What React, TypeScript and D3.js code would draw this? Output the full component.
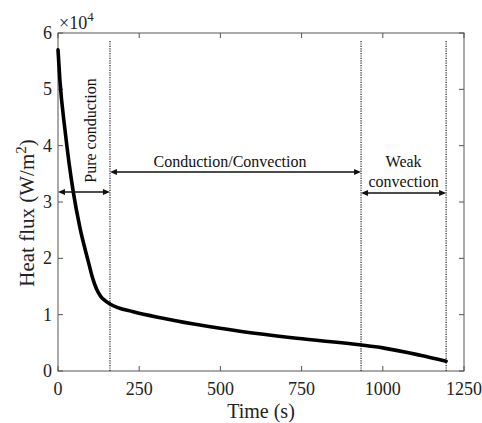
import React from "react";
import * as d3 from "d3";

// Heat flux history (time in s, flux in W/m^2)
const timeS = [0, 6, 21.5, 47, 68, 93, 106, 119, 132, 145, 160, 232, 335, 437, 560, 735, 935, 1000, 1115, 1195];
const heatFlux = [57000, 51500, 42800, 31800, 25300, 19500, 16600, 14500, 13200, 12500, 11900, 10500, 9250, 8150, 7050, 5800, 4600, 4100, 2800, 1750];

// Regime boundaries (s)
const boundaries = [160, 933, 1195];

const xTicks = [0, 250, 500, 750, 1000, 1250];
const yTicks = [0, 10000, 20000, 30000, 40000, 50000, 60000];

const W = 482;
const H = 423;
const FONT = "'Liberation Serif', 'Times New Roman', serif";

export default function App() {
  const left = 58, right = 464, top = 33, bottom = 371;
  const x = d3.scaleLinear().domain([0, 1250]).range([left, right]);
  const y = d3.scaleLinear().domain([0, 60000]).range([bottom, top]);

  const line = d3
    .line<number>()
    .x((_, i) => x(timeS[i]))
    .y((d) => y(d))
    .curve(d3.curveMonotoneX);

  const axisColor = "#555";
  const tickLen = 5;

  // double-headed horizontal arrow
  const arrow = (x1: number, x2: number, yy: number, key: string) => {
    const ah = 7, aw = 3;
    return (
      <g key={key}>
        <line x1={x1 + 2} x2={x2 - 2} y1={yy} y2={yy} stroke="#111" strokeWidth={1.3} />
        <path d={`M${x1},${yy} L${x1 + ah},${yy - aw} L${x1 + ah},${yy + aw} Z`} fill="#111" />
        <path d={`M${x2},${yy} L${x2 - ah},${yy - aw} L${x2 - ah},${yy + aw} Z`} fill="#111" />
      </g>
    );
  };

  const b0 = x(0), b1 = x(boundaries[0]), b2 = x(boundaries[1]), b3 = x(boundaries[2]);

  return (
    <svg width={W} height={H} style={{ position: "absolute", left: 0, top: 0, background: "#fff" }} fontFamily={FONT}>
      {/* plot box */}
      <rect x={left} y={top} width={right - left} height={bottom - top} fill="none" stroke={axisColor} strokeWidth={1} />

      {/* x ticks (bottom and top, inward) */}
      {xTicks.map((t) => (
        <g key={"xt" + t}>
          <line x1={x(t)} x2={x(t)} y1={bottom} y2={bottom - tickLen} stroke={axisColor} />
          <line x1={x(t)} x2={x(t)} y1={top} y2={top + tickLen} stroke={axisColor} />
          <text x={x(t)} y={395} textAnchor="middle" fontSize={18} fill="#222">
            {t}
          </text>
        </g>
      ))}

      {/* y ticks (left and right, inward) */}
      {yTicks.map((v) => (
        <g key={"yt" + v}>
          <line x1={left} x2={left + tickLen} y1={y(v)} y2={y(v)} stroke={axisColor} />
          <line x1={right} x2={right - tickLen} y1={y(v)} y2={y(v)} stroke={axisColor} />
          <text x={52} y={y(v) + 6} textAnchor="end" fontSize={18} fill="#222">
            {v / 10000}
          </text>
        </g>
      ))}

      {/* exponent multiplier */}
      <text x={59} y={29} fontSize={18} fill="#222">
        ×10<tspan dy={-8} fontSize={13}>4</tspan>
      </text>

      {/* axis titles */}
      <text x={(left + right) / 2} y={418} textAnchor="middle" fontSize={20} fill="#222">
        Time (s)
      </text>
      <text transform={`translate(34,213) rotate(-90)`} textAnchor="middle" fontSize={21} fill="#222">
        Heat flux (W/m<tspan dy={-8} fontSize={15}>2</tspan><tspan dy={8}>)</tspan>
      </text>

      {/* regime boundaries */}
      {boundaries.map((b) => (
        <line key={"b" + b} x1={x(b)} x2={x(b)} y1={41} y2={bottom} stroke="#222" strokeWidth={1.2} strokeDasharray="1.2,1.2" />
      ))}

      {/* heat flux curve */}
      <path d={line(heatFlux) ?? ""} fill="none" stroke="#000" strokeWidth={3.6} strokeLinejoin="round" strokeLinecap="round" />

      {/* regime annotations */}
      <text transform={`translate(96,130.5) rotate(-90)`} textAnchor="middle" fontSize={16} fill="#111">
        Pure conduction
      </text>
      {arrow(b0, b1, 192, "a1")}

      <text x={230} y={167} textAnchor="middle" fontSize={16} fill="#111">
        Conduction/Convection
      </text>
      {arrow(b1, b2, 172, "a2")}

      <text x={(b2 + b3) / 2} y={167} textAnchor="middle" fontSize={16} fill="#111">
        Weak
      </text>
      <text x={(b2 + b3) / 2} y={187} textAnchor="middle" fontSize={16} fill="#111">
        convection
      </text>
      {arrow(b2, b3, 193, "a3")}
    </svg>
  );
}
